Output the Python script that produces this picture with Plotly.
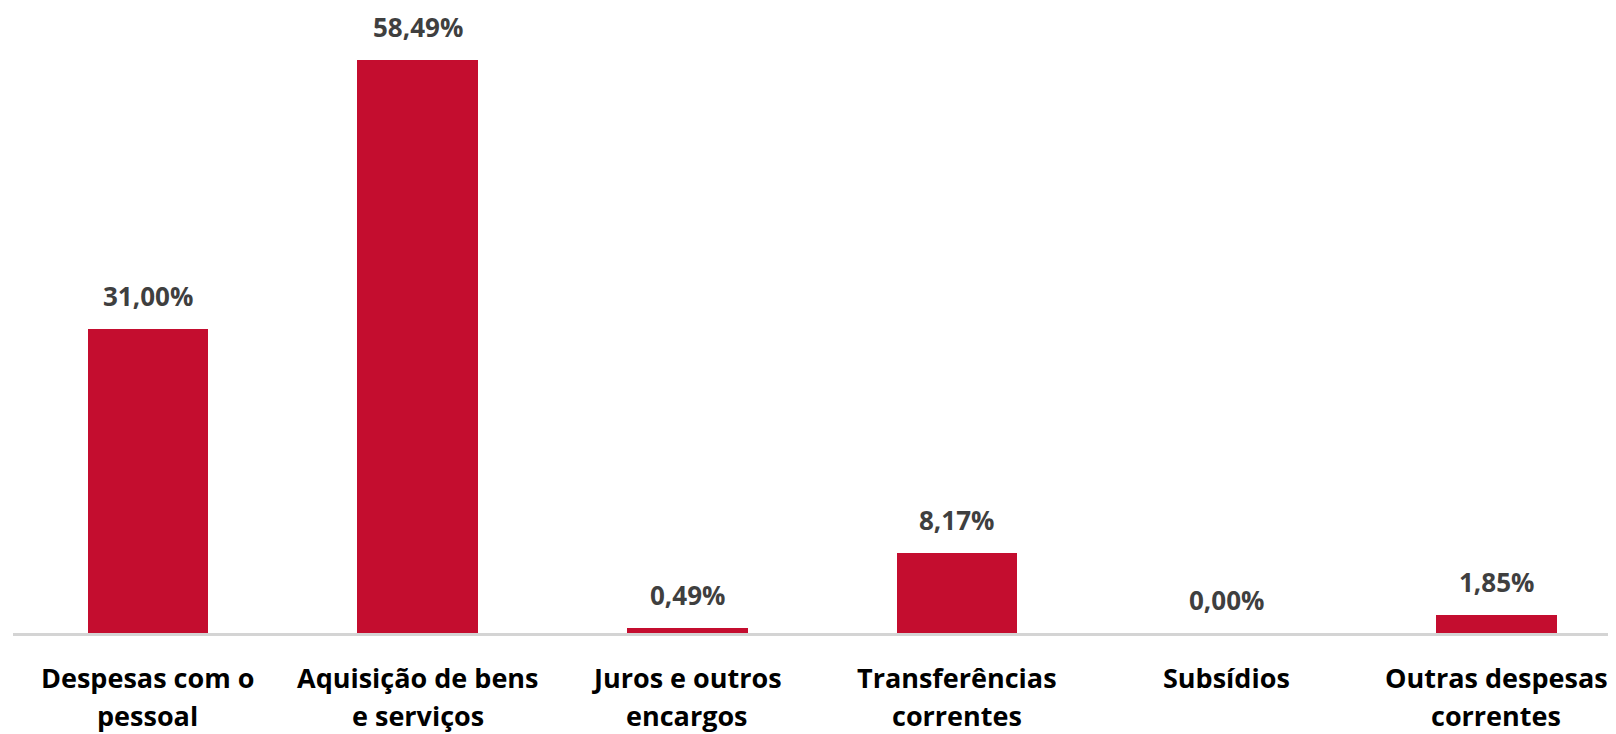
import plotly.graph_objects as go

categories = ["Despesas com o<br>pessoal", "Aquisição de bens<br>e serviços", "Juros e outros<br>encargos",
              "Transferências<br>correntes", "Subsídios", "Outras despesas<br>correntes"]
values = [31.00, 58.49, 0.49, 8.17, 0.00, 1.85]
value_labels = ["31,00%", "58,49%", "0,49%", "8,17%", "0,00%", "1,85%"]

BAR_COLOR = "#C40D2F"
LABEL_COLOR = "#3F3F3F"
FONT = "Open Sans"

x_idx = list(range(len(categories)))

fig = go.Figure()
fig.add_trace(go.Bar(
    x=x_idx, y=values, marker=dict(color=BAR_COLOR, line=dict(width=0)),
    width=0.447, hoverinfo="skip",
))

for i, (v, t) in enumerate(zip(values, value_labels)):
    fig.add_annotation(x=i, y=v, text=f"<b>{t}</b>", showarrow=False,
                       yanchor="bottom", yshift=14, borderpad=0,
                       font=dict(family=FONT, size=26, color=LABEL_COLOR))

# category labels, one annotation per line for wider line spacing
for i, c in enumerate(categories):
    for j, line in enumerate(c.split("<br>")):
        fig.add_annotation(x=i, y=0, yref="paper", text=f"<b>{line}</b>", showarrow=False,
                           yanchor="middle", yshift=-44 - 38 * j, borderpad=0,
                           font=dict(family=FONT, size=27, color="#000000"))

fig.update_layout(
    width=1608, height=726,
    margin=dict(l=5, r=0, t=0, b=101),
    plot_bgcolor="white", paper_bgcolor="white",
    showlegend=False, bargap=0,
    xaxis=dict(
        tickmode="array", tickvals=x_idx, showticklabels=False,
        range=[-0.5, -0.5 + 1603 / 269.7],
        showline=True, linecolor="#D4D4D4", linewidth=3,
        showgrid=False, zeroline=False, ticks="",
    ),
    yaxis=dict(range=[0, 63.78], visible=False, showgrid=False, zeroline=False),
)

fig.write_html("out.html")
